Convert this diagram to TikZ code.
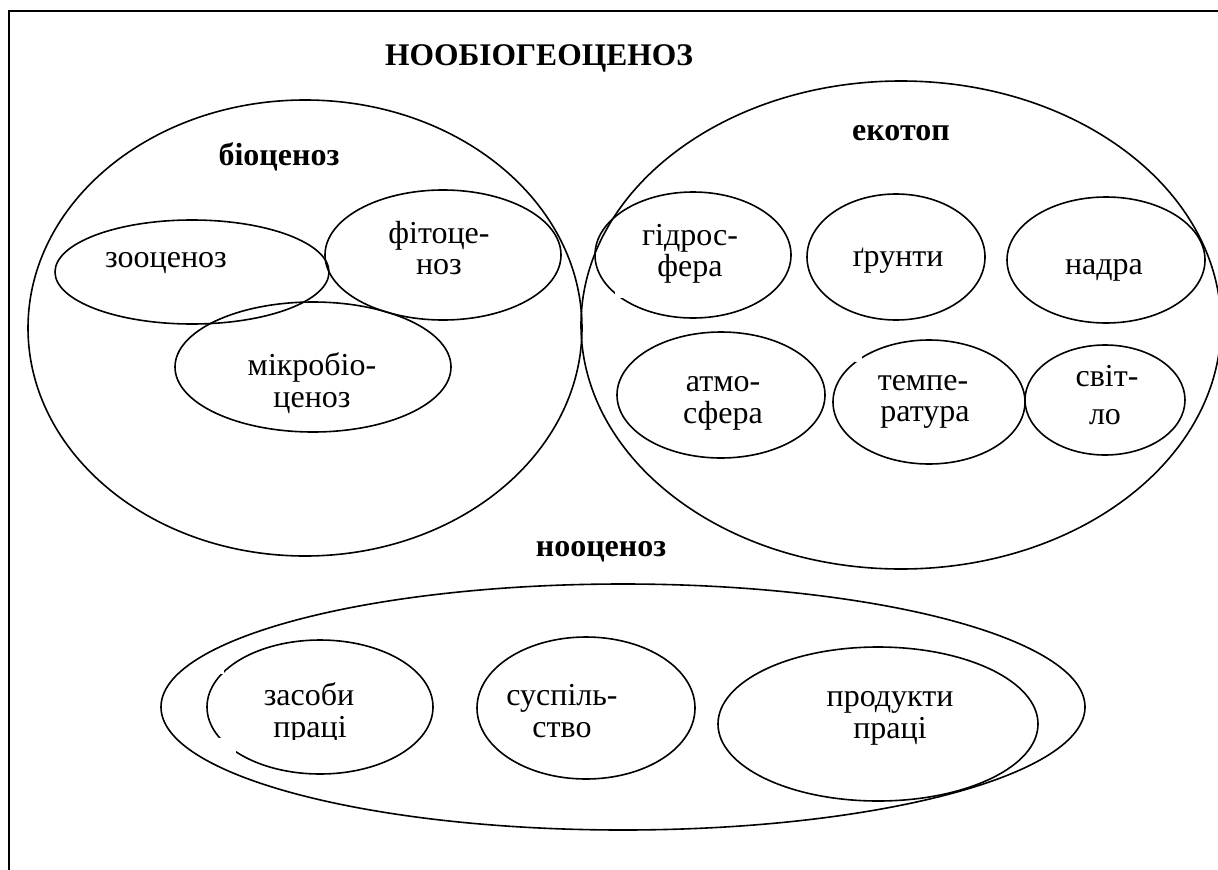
\documentclass[tikz,border=0pt]{standalone}
\usepackage{fontspec}
\IfFontExistsTF{LiberationSerif-Regular.ttf}
  {\setmainfont{LiberationSerif-Regular.ttf}[BoldFont=LiberationSerif-Bold.ttf]}
  {\setmainfont{Liberation Serif}}
\usetikzlibrary{shapes.geometric}
\begin{document}
\begin{tikzpicture}[x=1pt,y=-1pt,
  ell/.style={draw,ellipse,line width=1.6pt,inner sep=0pt},
  txt/.style={font=\rmfamily\fontsize{32}{32}\selectfont,inner sep=0pt,anchor=base},
  head/.style={font=\rmfamily\fontsize{32}{32}\selectfont\bfseries,inner sep=0pt,anchor=base},
  gap/.style={fill=white,draw=none}]
\useasboundingbox (0,0) rectangle (1218,870);
\draw[line width=1.6pt] (9,11) rectangle (1240,900);
\node[head,font=\rmfamily\fontsize{31.5}{32}\selectfont\bfseries] (title) at (539,65) {НООБІОГЕОЦЕНОЗ};
% biocenosis
\node[ell,minimum width=554pt,minimum height=456pt] (bio) at (305,328) {};
\node[head] (biol) at (279,165) {біоценоз};
\node[ell,minimum width=274pt,minimum height=104pt] (zoo) at (192,272) {};
\node[txt] (zool) at (166,267) {зооценоз};
\node[ell,minimum width=236pt,minimum height=130pt] (fito) at (443,255) {};
\node[txt] (fitoa) at (439,243) {фітоце-};
\node[txt] (fitob) at (439,274) {ноз};
\node[ell,minimum width=276pt,minimum height=130pt] (mikro) at (313,367) {};
\node[txt] (mikroa) at (312,375) {мікробіо-};
\node[txt] (mikrob) at (312,407) {ценоз};
% ecotope
\node[ell,minimum width=640pt,minimum height=488pt] (eko) at (901,325) {};
\node[head] (ekol) at (901,140) {екотоп};
\node[ell,minimum width=196pt,minimum height=126pt] (gidro) at (693,255) {};
\node[txt] (gidroa) at (690,245) {гідрос-};
\node[txt] (gidrob) at (690,276) {фера};
\node[ell,minimum width=178pt,minimum height=126pt] (grunt) at (896,257) {};
\node[txt] (gruntl) at (898,266) {ґрунти};
\node[ell,minimum width=198pt,minimum height=126pt] (nadra) at (1106,260) {};
\node[txt] (nadral) at (1104,274) {надра};
\node[ell,minimum width=208pt,minimum height=126pt] (atmo) at (721,395) {};
\node[txt] (atmoa) at (723,391) {атмо-};
\node[txt] (atmob) at (723,423) {сфера};
\node[ell,minimum width=192pt,minimum height=124pt] (temp) at (929,402) {};
\node[txt] (tempa) at (923,390) {темпе-};
\node[txt] (tempb) at (925,421) {ратура};
\node[ell,minimum width=160pt,minimum height=110pt] (svit) at (1105,400) {};
\node[txt] (svita) at (1107,386) {світ-};
\node[txt] (svitb) at (1105,424) {ло};
% noocenosis
\node[head] (nool) at (601,556) {нооценоз};
\node[ell,minimum width=924pt,minimum height=246pt] (noo) at (623,707) {};
\node[ell,minimum width=226pt,minimum height=134pt] (zas) at (320,707) {};
\node[txt] (zasa) at (309,705) {засоби};
\node[txt] (zasb) at (310,737) {праці};
\node[ell,minimum width=218pt,minimum height=142pt] (susp) at (586,708) {};
\node[txt] (suspa) at (562,705) {суспіль-};
\node[txt] (suspb) at (562,737) {ство};
\node[ell,minimum width=320pt,minimum height=154pt] (prod) at (878,724) {};
\node[txt] (proda) at (890,706) {продукти};
\node[txt] (prodb) at (890,738) {праці};
% small breaks in the outlines, as in the original
\fill[gap] (615,290) rectangle (624,298);
\fill[gap] (855,355) rectangle (862,362);
\fill[gap] (216,666) rectangle (224,674);
\fill[gap] (217,738) rectangle (236,753);
\fill[gap] (265,739.5) rectangle (355,752);
\end{tikzpicture}
\end{document}
